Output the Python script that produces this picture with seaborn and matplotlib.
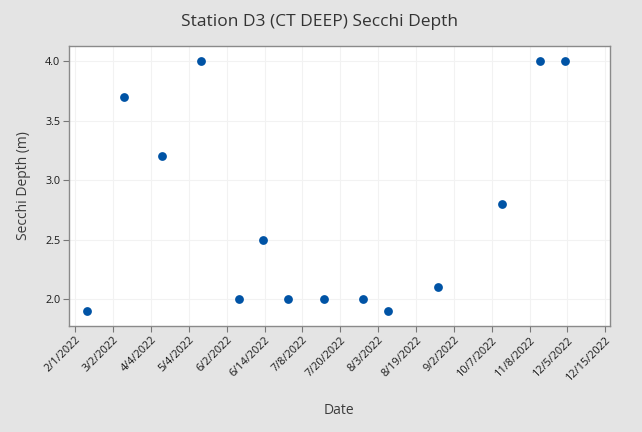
import numpy as np
import pandas as pd
import seaborn as sns
import matplotlib.pyplot as plt
import matplotlib.dates as mdates

sns.set_style('whitegrid')
plt.rcParams['font.family'] = ['Open Sans', 'DejaVu Sans']

# sampling dates and secchi depth in metres
dates = ['2022-02-08', '2022-03-02', '2022-03-25', '2022-04-17', '2022-05-10',
         '2022-05-24', '2022-06-08', '2022-06-30', '2022-07-23', '2022-08-07',
         '2022-09-06', '2022-10-14', '2022-11-06', '2022-11-21']
depth = [1.9, 3.7, 3.2, 4.0, 2.0, 2.5, 2.0, 2.0, 2.0, 1.9, 2.1, 2.8, 4.0, 4.0]

tick_labels = ['2/1/2022', '3/2/2022', '4/4/2022', '5/4/2022', '6/2/2022',
               '6/14/2022', '7/8/2022', '7/20/2022', '8/3/2022', '8/19/2022',
               '9/2/2022', '10/7/2022', '11/8/2022', '12/5/2022', '12/15/2022']

df = pd.DataFrame({'Date': pd.to_datetime(dates), 'Secchi Depth (m)': depth})

fig = plt.figure(figsize=(6.42, 4.32), dpi=100, facecolor='#e4e4e4')
ax = fig.add_axes([0.107, 0.245, 0.843, 0.649])

sns.scatterplot(data=df, x='Date', y='Secchi Depth (m)', ax=ax,
                color='#0053a5', s=40, edgecolor='#0053a5', linewidth=0, zorder=3)

# evenly spaced ticks across the date range
ticks = pd.date_range('2022-02-01', '2022-12-15', periods=len(tick_labels))
ax.set_xticks(mdates.date2num(ticks))
ax.set_xticklabels(tick_labels, rotation=45, ha='right', rotation_mode='anchor',
                   fontsize=7.8, color='#1a1a1a')
step = (ticks[1] - ticks[0])
ax.set_xlim(mdates.date2num(ticks[0] - step * 0.174), mdates.date2num(ticks[0] + step * 14.12))

ax.set_ylim(1.773, 4.129)
ax.set_yticks([2.0, 2.5, 3.0, 3.5, 4.0])
ax.set_yticklabels(['2.0', '2.5', '3.0', '3.5', '4.0'], fontsize=7.8, color='#1a1a1a')

ax.grid(True, color='#f2f2f2', linewidth=0.8)
for s in ax.spines.values():
    s.set_color('#8a8a8a')
    s.set_linewidth(1.0)
ax.tick_params(axis='both', which='both', direction='out', length=4, width=0.8,
               color='#777777', bottom=True, left=True, pad=2)

ax.set_xlabel('Date', fontsize=10, color='#3c3c3c', labelpad=14)
ax.set_ylabel('Secchi Depth (m)', fontsize=10, color='#3c3c3c', labelpad=10)
fig.suptitle('Station D3 (CT DEEP) Secchi Depth', x=0.497, y=0.968,
             fontsize=12.5, color='#333333', fontweight='medium')

plt.savefig('out.png', dpi=100, facecolor=fig.get_facecolor())
